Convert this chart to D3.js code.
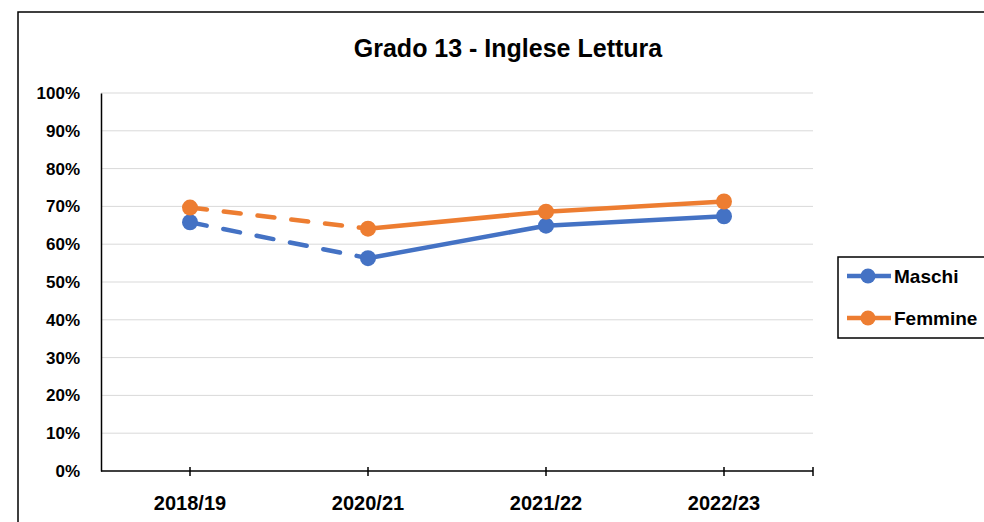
<!DOCTYPE html>
<html>
<head>
<meta charset="utf-8">
<script src="https://cdn.jsdelivr.net/npm/d3@7"></script>
<style>
  body { margin: 0; background: #fff; }
  text { font-family: "Liberation Sans", Arial, sans-serif; font-weight: bold; fill: #000; }
</style>
</head>
<body>
<svg id="svg1"></svg>
<script>
var width = 984;
var height = 522;

// data
var years = ['2018/19', '2020/21', '2021/22', '2022/23'];
var maschi = [0.658, 0.563, 0.649, 0.674];
var femmine = [0.697, 0.641, 0.686, 0.713];
var seriesNames = ['Maschi', 'Femmine'];
var seriesColors = ['#4472C4', '#ED7D31'];
var yTicks = [0, 0.1, 0.2, 0.3, 0.4, 0.5, 0.6, 0.7, 0.8, 0.9, 1];

var svg = d3.select('#svg1')
    .attr('width', width)
    .attr('height', height);

// chart frame
svg.append('rect')
    .attr('x', 18).attr('y', 12)
    .attr('width', 1100).attr('height', 600)
    .attr('fill', 'none')
    .attr('stroke', '#000')
    .attr('stroke-width', 1.5);

svg.append('text')
    .attr('x', 508).attr('y', 57)
    .attr('text-anchor', 'middle')
    .style('font-size', '25px')
    .text('Grado 13 - Inglese Lettura');

var xScale = d3.scaleBand()
    .domain(years)
    .range([101, 813]);

var yScale = d3.scaleLinear()
    .domain([0, 1])
    .range([471, 93]);

var xc = function(d) { return xScale(d) + xScale.bandwidth() / 2; };

// gridlines
svg.append('g').selectAll('line')
    .data(yTicks.slice(1)).enter()
    .append('line')
    .attr('x1', 101).attr('x2', 813)
    .attr('y1', function(d) { return yScale(d); })
    .attr('y2', function(d) { return yScale(d); })
    .attr('stroke', '#d9d9d9')
    .attr('stroke-width', 1);

// y axis
var yAxis = d3.axisLeft(yScale)
    .tickValues(yTicks)
    .tickSize(0)
    .tickPadding(21)
    .tickFormat(d3.format('.0%'));
var yg = svg.append('g')
    .attr('transform', 'translate(101,0)')
    .call(yAxis);
yg.select('.domain').attr('stroke', '#000').attr('stroke-width', 1.5);
yg.selectAll('text').style('font-size', '17px').style('font-family', null);

// x axis
var xAxis = d3.axisBottom(xScale).tickSize(5).tickPadding(20);
var xg = svg.append('g')
    .attr('transform', 'translate(0,471)')
    .call(xAxis);
xg.select('.domain').attr('d', 'M101,0H813').attr('stroke', '#000').attr('stroke-width', 1.5);
xg.selectAll('.tick line').attr('y1', -4).attr('stroke', '#000').attr('stroke-width', 1.5);
xg.selectAll('text').style('font-size', '20px').style('font-family', null);
xg.append('line')
    .attr('x1', xScale.range()[1]).attr('x2', xScale.range()[1])
    .attr('y1', -4).attr('y2', 5)
    .attr('stroke', '#000').attr('stroke-width', 1.5);

// series
var allSeries = [maschi, femmine];
allSeries.forEach(function(vals, s) {
    var pts = years.map(function(y, i) { return { year: y, v: vals[i] }; });
    var line = d3.line()
        .x(function(d) { return xc(d.year); })
        .y(function(d) { return yScale(d.v); });
    // first segment dashed
    svg.append('path')
        .datum(pts.slice(0, 2))
        .attr('d', line)
        .attr('fill', 'none')
        .attr('stroke', seriesColors[s])
        .attr('stroke-width', 4.5)
        .attr('stroke-linecap', 'round')
        .attr('stroke-dasharray', '17,17');
    svg.append('path')
        .datum(pts.slice(1))
        .attr('d', line)
        .attr('fill', 'none')
        .attr('stroke', seriesColors[s])
        .attr('stroke-width', 4.5)
        .attr('stroke-linejoin', 'round');
    svg.append('g').selectAll('circle')
        .data(pts).enter()
        .append('circle')
        .attr('cx', function(d) { return xc(d.year); })
        .attr('cy', function(d) { return yScale(d.v); })
        .attr('r', 8)
        .attr('fill', seriesColors[s]);
});

// legend
svg.append('rect')
    .attr('x', 838).attr('y', 257)
    .attr('width', 200).attr('height', 81)
    .attr('fill', '#fff')
    .attr('stroke', '#000')
    .attr('stroke-width', 1.5);
var legY = [276, 318];
seriesNames.forEach(function(name, s) {
    var g = svg.append('g');
    g.append('line')
        .attr('x1', 847).attr('x2', 891)
        .attr('y1', legY[s]).attr('y2', legY[s])
        .attr('stroke', seriesColors[s])
        .attr('stroke-width', 4.5);
    g.append('circle')
        .attr('cx', 868).attr('cy', legY[s]).attr('r', 7.5)
        .attr('fill', seriesColors[s]);
    g.append('text')
        .attr('x', 894).attr('y', legY[s] + 7)
        .style('font-size', '19px')
        .text(name);
});
</script>
</body>
</html>
